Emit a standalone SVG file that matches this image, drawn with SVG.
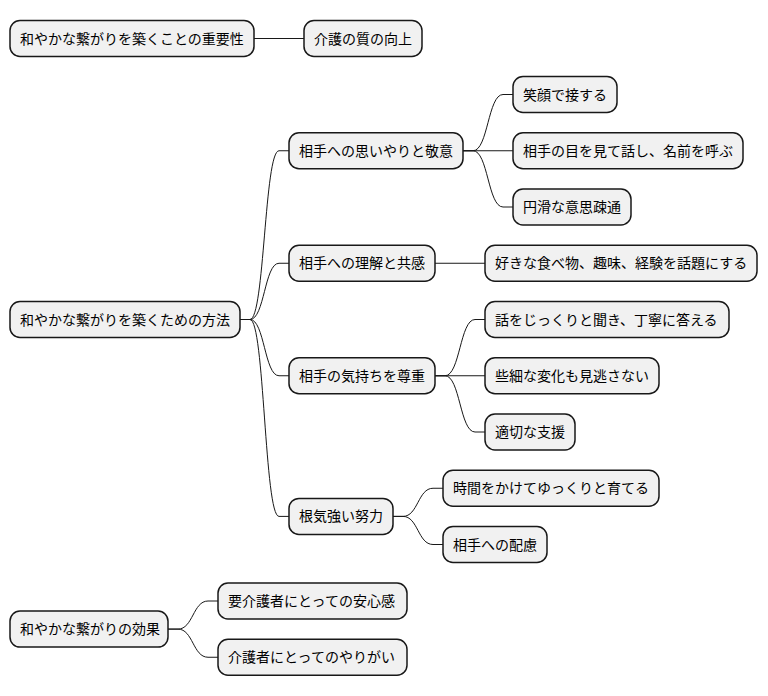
<svg xmlns="http://www.w3.org/2000/svg" width="768" height="696" viewBox="0 0 768 696">
<style>
.n rect{fill:#F1F1F1;stroke:#181818;stroke-width:1.5}
.n text{font-family:"Noto Sans CJK JP","Noto Sans",sans-serif;font-size:14px;fill:#000}
#connectors path{fill:none;stroke:#181818;stroke-width:1}
</style>
<rect width="768" height="696" fill="#FFFFFF"/>
<g id="connectors">
<path d="M254 38.5 H304"/>
<path d="M240 319.5 H250 C264.5 319.5 264.5 150.75 279 150.75 H289"/>
<path d="M240 319.5 H250 C264.5 319.5 264.5 263.25 279 263.25 H289"/>
<path d="M240 319.5 H250 C264.5 319.5 264.5 375.75 279 375.75 H289"/>
<path d="M240 319.5 H250 C264.5 319.5 264.5 516.4 279 516.4 H289"/>
<path d="M463 150.75 H473 C488 150.75 488 94.5 503 94.5 H513"/>
<path d="M463 150.75 H513"/>
<path d="M463 150.75 H473 C488 150.75 488 207 503 207 H513"/>
<path d="M435 263.25 H485"/>
<path d="M435 375.75 H445 C460 375.75 460 319.5 475 319.5 H485"/>
<path d="M435 375.75 H485"/>
<path d="M435 375.75 H445 C460 375.75 460 432 475 432 H485"/>
<path d="M393 516.4 H403 C418 516.4 418 488.25 433 488.25 H443"/>
<path d="M393 516.4 H403 C418 516.4 418 544.5 433 544.5 H443"/>
<path d="M168 629.1 H178 C193 629.1 193 601 208 601 H218"/>
<path d="M168 629.1 H178 C193 629.1 193 657.25 208 657.25 H218"/>
</g>
<g id="n1" class="n"><rect x="10" y="20.5" width="244" height="36" rx="10"/><text x="20" y="43.5">和やかな繋がりを築くことの重要性</text></g>
<g id="n1a" class="n"><rect x="304" y="20.5" width="118" height="36" rx="10"/><text x="314" y="43.5">介護の質の向上</text></g>
<g id="n2" class="n"><rect x="10" y="301.5" width="230" height="36" rx="10"/><text x="20" y="324.5">和やかな繋がりを築くための方法</text></g>
<g id="n2a" class="n"><rect x="289" y="132.75" width="174" height="36" rx="10"/><text x="299" y="155.75">相手への思いやりと敬意</text></g>
<g id="n2a1" class="n"><rect x="513" y="76.5" width="104" height="36" rx="10"/><text x="523" y="99.5">笑顔で接する</text></g>
<g id="n2a2" class="n"><rect x="513" y="132.75" width="230" height="36" rx="10"/><text x="523" y="155.75">相手の目を見て話し、名前を呼ぶ</text></g>
<g id="n2a3" class="n"><rect x="513" y="189" width="118" height="36" rx="10"/><text x="523" y="212">円滑な意思疎通</text></g>
<g id="n2b" class="n"><rect x="289" y="245.25" width="146" height="36" rx="10"/><text x="299" y="268.25">相手への理解と共感</text></g>
<g id="n2b1" class="n"><rect x="485" y="245.25" width="272" height="36" rx="10"/><text x="495" y="268.25">好きな食べ物、趣味、経験を話題にする</text></g>
<g id="n2c" class="n"><rect x="289" y="357.75" width="146" height="36" rx="10"/><text x="299" y="380.75">相手の気持ちを尊重</text></g>
<g id="n2c1" class="n"><rect x="485" y="301.5" width="244" height="36" rx="10"/><text x="495" y="324.5">話をじっくりと聞き、丁寧に答える</text></g>
<g id="n2c2" class="n"><rect x="485" y="357.75" width="174" height="36" rx="10"/><text x="495" y="380.75">些細な変化も見逃さない</text></g>
<g id="n2c3" class="n"><rect x="485" y="414" width="90" height="36" rx="10"/><text x="495" y="437">適切な支援</text></g>
<g id="n2d" class="n"><rect x="289" y="498.4" width="104" height="36" rx="10"/><text x="299" y="521.4">根気強い努力</text></g>
<g id="n2d1" class="n"><rect x="443" y="470.25" width="216" height="36" rx="10"/><text x="453" y="493.25">時間をかけてゆっくりと育てる</text></g>
<g id="n2d2" class="n"><rect x="443" y="526.5" width="104" height="36" rx="10"/><text x="453" y="549.5">相手への配慮</text></g>
<g id="n3" class="n"><rect x="10" y="611.1" width="158" height="36" rx="10"/><text x="20" y="634.1">和やかな繋がりの効果</text></g>
<g id="n3a" class="n"><rect x="218" y="583" width="189" height="36" rx="10"/><text x="228" y="606">要介護者にとっての安心感</text></g>
<g id="n3b" class="n"><rect x="218" y="639.25" width="189" height="36" rx="10"/><text x="228" y="662.25">介護者にとってのやりがい</text></g>
</svg>
